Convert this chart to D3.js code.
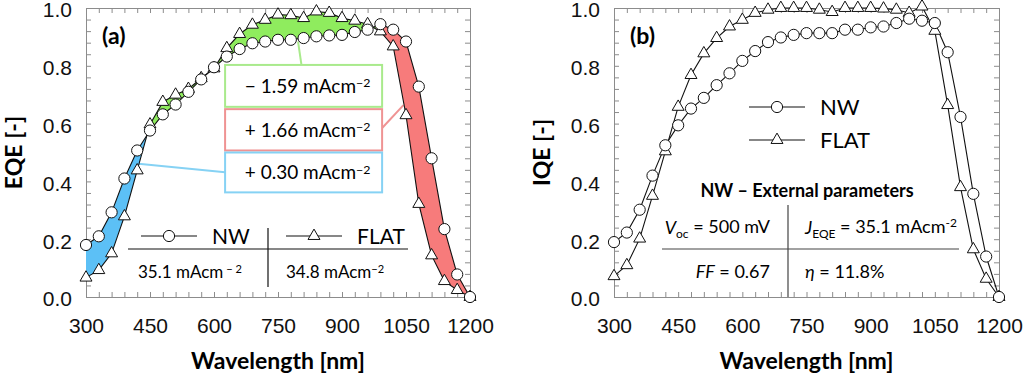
<!DOCTYPE html>
<meta charset="utf-8">
<script src="https://cdnjs.cloudflare.com/ajax/libs/d3/7.8.5/d3.min.js"></script>
<style>
  body { margin: 0; background: #fff; }
  svg { font-family: Lato, "Open Sans", sans-serif; }
  .frame path.domain, .frame line { stroke: #8c8c8c; }
</style>
<div id="chart"></div>
<script>
// wavelength grid [nm]
const wavelength = [300, 330, 360, 390, 420, 450, 480, 510, 540, 570, 600, 630, 660, 690, 720, 750,
  780, 810, 840, 870, 900, 930, 960, 990, 1020, 1050, 1080, 1110, 1140, 1170, 1200];

// (a) external quantum efficiency
const eqeNW = [0.18, 0.21, 0.293, 0.41, 0.507, 0.576, 0.632, 0.666, 0.71, 0.753, 0.795, 0.832, 0.858, 0.878,
  0.884, 0.89, 0.89, 0.896, 0.902, 0.905, 0.907, 0.917, 0.925, 0.944, 0.925, 0.884, 0.728, 0.48, 0.235, 0.078, 0.0];
const eqeFLAT = [0.067, 0.093, 0.151, 0.279, 0.438, 0.597, 0.675, 0.70, 0.72, 0.757, 0.791, 0.861, 0.91, 0.942,
  0.959, 0.977, 0.975, 0.965, 0.988, 0.983, 0.965, 0.956, 0.944, 0.919, 0.867, 0.629, 0.322, 0.144, 0.055, 0.024, 0.0];

// (b) internal quantum efficiency
const iqeNW = [0.19, 0.223, 0.302, 0.42, 0.525, 0.594, 0.652, 0.689, 0.733, 0.774, 0.817, 0.851, 0.882, 0.898,
  0.907, 0.913, 0.913, 0.913, 0.925, 0.925, 0.933, 0.936, 0.948, 0.963, 0.956, 0.948, 0.847, 0.623, 0.357, 0.14, 0.0];
const iqeFLAT = [0.072, 0.11, 0.202, 0.35, 0.504, 0.658, 0.768, 0.843, 0.896, 0.936, 0.959, 0.983, 0.994, 1.0,
  1.0, 1.0, 0.994, 0.986, 1.0, 1.0, 1.0, 0.998, 0.994, 0.983, 1.005, 0.921, 0.664, 0.38, 0.165, 0.063, 0.0];

// shaded regions of the EQE difference (blue, green, red) and their current values
const regionBreaks = [300, 443, 980, 1200];
const regionColors = ["#5cc0f6", "#8fec5e", "#f77b7b"];
const regionBorders = ["#86d2f4", "#a9ea8c", "#ef9393"];
const regionLabels = ["+ 0.30", "\u2212 1.59", "+ 1.66"];

const xTickLabels = [300, 450, 600, 750, 900, 1050, 1200];
const yTickLabels = [0, 0.2, 0.4, 0.6, 0.8, 1.0];

const W = 1024, H = 380;
const plotH = 289, plotTop = 8;

const svg = d3.select("#chart").append("svg")
    .attr("width", W)
    .attr("height", H);

function panel(left, width, yTitle, tag) {
  const g = svg.append("g").attr("transform", `translate(${left},${plotTop})`);
  const x = d3.scaleLinear().domain([300, 1200]).range([0, width]);
  const y = d3.scaleLinear().domain([0, 1]).range([plotH, 0]);

  const xMinor = d3.range(300, 1201, 30);
  const yMinor = d3.range(0, 1.0001, 0.04);
  const isMajorX = v => xTickLabels.includes(v);
  const isMajorY = v => yTickLabels.some(t => Math.abs(t - v) < 1e-6);

  g.append("g").attr("class", "frame")
      .attr("transform", `translate(0,${plotH})`)
      .call(d3.axisBottom(x).tickValues(xMinor).tickSizeInner(-5).tickSizeOuter(0).tickPadding(21)
        .tickFormat(v => isMajorX(v) ? v : ""))
      .call(a => a.selectAll("text").attr("font-size", 21).attr("fill", "#111"));
  g.append("g").attr("class", "frame")
      .call(d3.axisTop(x).tickValues(xMinor).tickSizeInner(-5).tickSizeOuter(0).tickFormat(""));
  g.append("g").attr("class", "frame")
      .call(d3.axisLeft(y).tickValues(yMinor).tickSizeInner(-5).tickSizeOuter(0).tickPadding(14)
        .tickFormat(v => isMajorY(v) ? d3.format(".1f")(v) : ""))
      .call(a => a.selectAll("text").attr("font-size", 21).attr("fill", "#111").attr("dy", "0.42em"));
  g.append("g").attr("class", "frame")
      .attr("transform", `translate(${width},0)`)
      .call(d3.axisRight(y).tickValues(yMinor).tickSizeInner(-5).tickSizeOuter(0).tickFormat(""));

  g.append("text")
      .attr("x", width / 2).attr("y", 361)
      .attr("text-anchor", "middle")
      .attr("font-size", 23).attr("font-weight", "bold")
      .text("Wavelength [nm]");
  g.append("text")
      .attr("transform", `translate(-72,${plotH / 2}) rotate(-90)`)
      .attr("text-anchor", "middle").attr("dy", "0.35em")
      .attr("font-size", 23).attr("font-weight", "bold")
      .text(yTitle);
  g.append("text")
      .attr("x", 16).attr("y", 36)
      .attr("font-size", 23).attr("font-weight", "bold")
      .text(tag);

  return {g, x, y};
}

function drawSeries(p, nw, flat) {
  const {g, x, y} = p;
  const pts = s => wavelength.map((w, i) => [w, s[i]]);
  const line = d3.line().x(d => x(d[0])).y(d => y(d[1]));
  [flat, nw].forEach(s => {
    g.append("path").attr("d", line(pts(s)))
        .attr("fill", "none").attr("stroke", "#111").attr("stroke-width", 1.1);
  });
  g.append("g").selectAll("path").data(pts(flat)).join("path")
      .attr("transform", d => `translate(${x(d[0])},${y(d[1])})`)
      .attr("d", d3.symbol(d3.symbolTriangle, 62))
      .attr("fill", "#fff").attr("stroke", "#111").attr("stroke-width", 1);
  g.append("g").selectAll("circle").data(pts(nw)).join("circle")
      .attr("cx", d => x(d[0])).attr("cy", d => y(d[1])).attr("r", 5.6)
      .attr("fill", "#fff").attr("stroke", "#111").attr("stroke-width", 1);
}

function legendItem(g, cx, cy, symbol, label, size) {
  g.append("line").attr("x1", cx - 28).attr("x2", cx + 28).attr("y1", cy).attr("y2", cy)
      .attr("stroke", "#111").attr("stroke-width", 1.2);
  if (symbol === "circle") {
    g.append("circle").attr("cx", cx).attr("cy", cy).attr("r", 5.6)
        .attr("fill", "#fff").attr("stroke", "#111");
  } else {
    g.append("path").attr("transform", `translate(${cx},${cy})`)
        .attr("d", d3.symbol(d3.symbolTriangle, 62))
        .attr("fill", "#fff").attr("stroke", "#111");
  }
  g.append("text").attr("x", cx + 43).attr("y", cy).attr("dy", "0.36em")
      .attr("font-size", size).text(label);
}

function currentText(g, xPos, yPos, anchor, value, size, spaced) {
  const t = g.append("text").attr("x", xPos).attr("y", yPos).attr("dy", "0.36em")
      .attr("text-anchor", anchor).attr("font-size", size);
  t.append("tspan").text(value + " mAcm");
  t.append("tspan").attr("dy", "-0.45em").attr("font-size", size * 0.65)
      .text(spaced ? " \u2212 2" : "\u22122");
}

// ---------- panel (a) ----------
const pa = panel(86, 384, "EQE [-]", "(a)");

const area = d3.area()
    .x((d, i) => pa.x(wavelength[i]))
    .y0((d, i) => pa.y(eqeFLAT[i]))
    .y1((d, i) => pa.y(eqeNW[i]));

regionColors.forEach((c, k) => {
  const id = "clip" + k;
  pa.g.append("clipPath").attr("id", id).append("rect")
      .attr("x", pa.x(regionBreaks[k])).attr("width", pa.x(regionBreaks[k + 1]) - pa.x(regionBreaks[k]))
      .attr("y", -5).attr("height", plotH + 10);
  pa.g.append("path").attr("d", area(wavelength)).attr("fill", c).attr("clip-path", `url(#${id})`);
});

// callout boxes: green on top, red in the middle, blue at the bottom
const boxes = [
  {k: 1, y0: 0.803, y1: 0.658, from: [805, 0.803], to: [797, 0.884]},
  {k: 2, y0: 0.650, y1: 0.507, from: [993, 0.583], to: [1044, 0.664]},
  {k: 0, y0: 0.500, y1: 0.362, from: [626, 0.432], to: [423, 0.461]}
];
boxes.forEach(b => {
  pa.g.append("line")
      .attr("x1", pa.x(b.from[0])).attr("y1", pa.y(b.from[1]))
      .attr("x2", pa.x(b.to[0])).attr("y2", pa.y(b.to[1]))
      .attr("stroke", regionBorders[b.k]).attr("stroke-width", 2);
});

drawSeries(pa, eqeNW, eqeFLAT);

boxes.forEach(b => {
  const bx0 = pa.x(626), bx1 = pa.x(994);
  pa.g.append("rect")
      .attr("x", bx0).attr("y", pa.y(b.y0))
      .attr("width", bx1 - bx0).attr("height", pa.y(b.y1) - pa.y(b.y0))
      .attr("fill", "#fff").attr("stroke", regionBorders[b.k]).attr("stroke-width", 2);
  currentText(pa.g, (bx0 + bx1) / 2 + 4, (pa.y(b.y0) + pa.y(b.y1)) / 2, "middle", regionLabels[b.k], 19, false);
});

// legend table (a)
const la = pa.g.append("g");
la.append("line").attr("x1", 42).attr("x2", 322).attr("y1", 241).attr("y2", 241)
    .attr("stroke", "#111").attr("stroke-width", 1.2);
la.append("line").attr("x1", 182).attr("x2", 182).attr("y1", 220).attr("y2", 279)
    .attr("stroke", "#111").attr("stroke-width", 1.2);
legendItem(la, 83, 228, "circle", "NW", 21);
legendItem(la, 228, 228, "triangle", "FLAT", 21);
currentText(la, 52, 264, "start", "35.1", 17, true);
currentText(la, 200, 264, "start", "34.8", 17, false);

// ---------- panel (b) ----------
const pb = panel(614, 385, "IQE [-]", "(b)");
drawSeries(pb, iqeNW, iqeFLAT);

const lb = pb.g.append("g");
legendItem(lb, 163, 99, "circle", "NW", 22);
legendItem(lb, 163, 132, "triangle", "FLAT", 22);

lb.append("text").attr("x", 193).attr("y", 183).attr("dy", "0.36em")
    .attr("text-anchor", "middle").attr("font-size", 18).attr("font-weight", "bold")
    .text("NW \u2013 External parameters");
lb.append("line").attr("x1", 48).attr("x2", 345).attr("y1", 241).attr("y2", 241)
    .attr("stroke", "#444").attr("stroke-width", 1.2);
lb.append("line").attr("x1", 174).attr("x2", 174).attr("y1", 197).attr("y2", plotH)
    .attr("stroke", "#444").attr("stroke-width", 1.2);

const t1 = lb.append("text").attr("x", 156).attr("y", 220).attr("dy", "0.36em")
    .attr("text-anchor", "end").attr("font-size", 18);
t1.append("tspan").attr("font-style", "italic").text("V");
t1.append("tspan").attr("font-size", 12).attr("dy", "0.3em").text("oc");
t1.append("tspan").attr("dy", "-0.3em").text(" = 500 mV");

const t2 = lb.append("text").attr("x", 156).attr("y", 264).attr("dy", "0.36em")
    .attr("text-anchor", "end").attr("font-size", 18);
t2.append("tspan").attr("font-style", "italic").text("FF");
t2.append("tspan").text(" = 0.67");

const t3 = lb.append("text").attr("x", 191).attr("y", 220).attr("dy", "0.36em")
    .attr("font-size", 18);
t3.append("tspan").attr("font-style", "italic").text("J");
t3.append("tspan").attr("font-size", 12).attr("dy", "0.3em").text("EQE");
t3.append("tspan").attr("dy", "-0.3em").text(" = 35.1 mAcm");
t3.append("tspan").attr("font-size", 12).attr("dy", "-0.5em").text("-2");

const t4 = lb.append("text").attr("x", 191).attr("y", 264).attr("dy", "0.36em")
    .attr("font-size", 18);
t4.append("tspan").attr("font-style", "italic").text("\u03B7");
t4.append("tspan").text(" = 11.8%");
</script>
